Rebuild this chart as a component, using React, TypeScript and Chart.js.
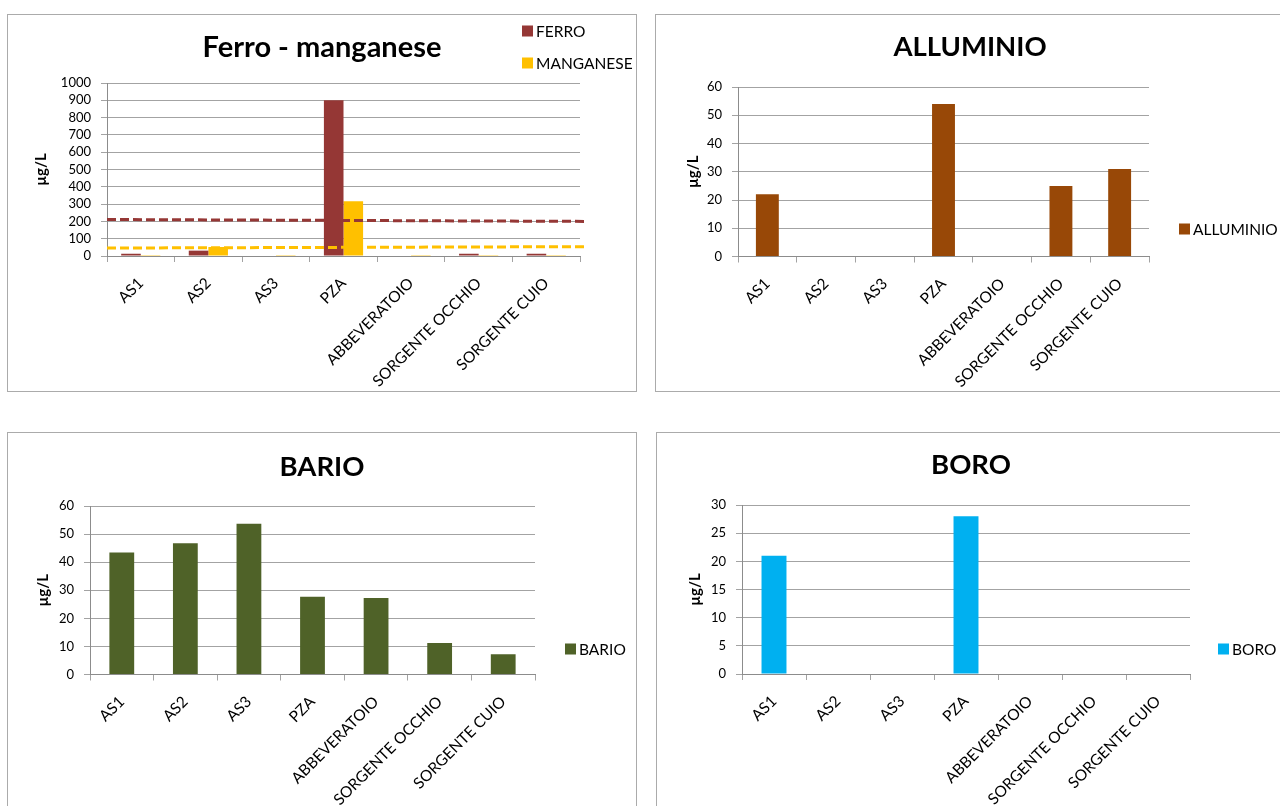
import React, { useEffect, useRef } from "react";
import { Chart, registerables } from "chart.js";

Chart.register(...registerables);

const CATEGORIES = ["AS1", "AS2", "AS3", "PZA", "ABBEVERATOIO", "SORGENTE OCCHIO", "SORGENTE CUIO"];

const FERRO = [13, 31, 0, 900, 0, 13, 13];
const MANGANESE = [5, 52, 5, 316, 5, 5, 5];
// dashed limit lines (value at left edge, value at right edge)
const FERRO_LIMIT = [211, 200];
const MANGANESE_LIMIT = [46, 54];
const LIMIT_X = [0, 7.07];

const ALLUMINIO = [22, 0, 0, 54, 0, 25, 31];
const BARIO = [43.4, 46.7, 53.7, 27.7, 27.2, 11.2, 7.2];
const BORO = [21, 0, 0, 28, 0, 0, 0];

const Y_TICKS_FERRO = { max: 1000, step: 100 };
const Y_TICKS_ALLUMINIO = { max: 60, step: 10 };
const Y_TICKS_BARIO = { max: 60, step: 10 };
const Y_TICKS_BORO = { max: 30, step: 5 };

const W = 628;
const H = 376;
const FONT = "Lato, 'Open Sans', sans-serif";
const GRID = "#a3a3a3";

type Cfg = {
  key: string;
  title: string;
  titleSize: number;
  box: { left: number; top: number };
  area: { left: number; top: number; right: number; bottom: number };
  titleY: number;
  axisTitleX: number;
  yTicks: { max: number; step: number };
  series: { label: string; data: number[]; color: string }[];
  catPct: number;
  legend: { x: number; y: number; gap: number };
  limits?: { values: number[]; color: string }[];
};

const CHARTS: Cfg[] = [
  {
    key: "fe",
    title: "Ferro - manganese",
    titleSize: 29,
    box: { left: 7, top: 14 },
    area: { left: 99, top: 68, right: 572, bottom: 241 },
    titleY: 33,
    axisTitleX: 33,
    yTicks: Y_TICKS_FERRO,
    series: [
      { label: "FERRO", data: FERRO, color: "#953735" },
      { label: "MANGANESE", data: MANGANESE, color: "#FFC000" },
    ],
    catPct: 0.58,
    legend: { x: 514, y: 16, gap: 32 },
    limits: [
      { values: FERRO_LIMIT, color: "#953735" },
      { values: MANGANESE_LIMIT, color: "#FFC000" },
    ],
  },
  {
    key: "al",
    title: "ALLUMINIO",
    titleSize: 27.5,
    box: { left: 655, top: 14 },
    area: { left: 82, top: 72, right: 493, bottom: 241.5 },
    titleY: 32,
    axisTitleX: 37,
    yTicks: Y_TICKS_ALLUMINIO,
    series: [{ label: "ALLUMINIO", data: ALLUMINIO, color: "#984807" }],
    catPct: 0.39,
    legend: { x: 523, y: 214, gap: 0 },
  },
  {
    key: "ba",
    title: "BARIO",
    titleSize: 27.5,
    box: { left: 7, top: 432 },
    area: { left: 82, top: 73, right: 527, bottom: 241.5 },
    titleY: 34,
    axisTitleX: 35,
    yTicks: Y_TICKS_BARIO,
    series: [{ label: "BARIO", data: BARIO, color: "#4F6228" }],
    catPct: 0.39,
    legend: { x: 557, y: 216, gap: 0 },
  },
  {
    key: "bo",
    title: "BORO",
    titleSize: 27.5,
    box: { left: 656, top: 432 },
    area: { left: 85, top: 72, right: 533, bottom: 241 },
    titleY: 32,
    axisTitleX: 38,
    yTicks: Y_TICKS_BORO,
    series: [{ label: "BORO", data: BORO, color: "#00B0F0" }],
    catPct: 0.39,
    legend: { x: 561, y: 216, gap: 0 },
  },
];

function buildConfig(cfg: Cfg): any {
  const { area } = cfg;
  const yw = area.left;
  const xh = H - area.bottom;
  const barThickness = ((area.right - area.left) / CATEGORIES.length) * cfg.catPct / cfg.series.length;
  const datasets: any[] = [];
  (cfg.limits || []).forEach((lim) => {
    datasets.push({
      type: "line",
      data: LIMIT_X.map((x, i) => ({ x, y: lim.values[i] })),
      xAxisID: "xl",
      yAxisID: "y",
      borderColor: lim.color,
      borderWidth: 3,
      borderDash: [9, 4],
      pointRadius: 0,
      clip: false,
      order: 0,
    });
  });
  cfg.series.forEach((s) => {
    datasets.push({
      type: "bar",
      label: s.label,
      data: s.data,
      backgroundColor: s.color,
      borderWidth: 0,
      inflateAmount: 0,
      xAxisID: "x",
      yAxisID: "y",
      barThickness,
      order: 1,
    });
  });

  const titlePlugin = {
    id: "boxTitle_" + cfg.key,
    afterDraw(chart: any) {
      const ctx = chart.ctx;
      ctx.save();
      ctx.font = `bold ${cfg.titleSize}px ${FONT}`;
      ctx.fillStyle = "#000";
      ctx.textAlign = "center";
      ctx.textBaseline = "middle";
      ctx.fillText(cfg.title, W / 2, cfg.titleY);
      ctx.restore();
    },
  };
  const legendPlugin = {
    id: "boxLegend_" + cfg.key,
    afterDraw(chart: any) {
      const ctx = chart.ctx;
      ctx.save();
      ctx.font = `15.5px ${FONT}`;
      ctx.textBaseline = "middle";
      ctx.textAlign = "left";
      cfg.series.forEach((s, i) => {
        const y = cfg.legend.y + i * cfg.legend.gap;
        ctx.fillStyle = s.color;
        ctx.fillRect(cfg.legend.x, y - 5.5, 11, 11);
        ctx.fillStyle = "#000";
        ctx.fillText(s.label, cfg.legend.x + 14, y + 1);
      });
      ctx.restore();
    },
  };

  return {
    type: "bar",
    data: { labels: CATEGORIES, datasets },
    options: {
      responsive: false,
      animation: false,
      devicePixelRatio: 1,
      layout: { padding: { left: 0, top: area.top, right: W - area.right, bottom: 0 } },
      plugins: {
        legend: { display: false },
        title: { display: false },
        tooltip: { enabled: false },
      },
      scales: {
        x: {
          type: "category",
          position: "bottom",
          grid: {
            display: true,
            drawOnChartArea: false,
            drawTicks: true,
            tickLength: 6,
            color: GRID,
            offset: true,
          },
          border: { display: true, color: "#8c8c8c" },
          ticks: {
            autoSkip: false,
            minRotation: 45,
            maxRotation: 45,
            padding: 12,
            color: "#000",
            font: { family: FONT, size: 15.5 },
          },
          afterFit(scale: any) {
            scale.height = xh;
          },
        },
        xl: {
          type: "linear",
          display: false,
          offset: false,
          grid: { offset: false },
          min: 0,
          max: 7,
          position: "bottom",
        },
        y: {
          type: "linear",
          min: 0,
          max: cfg.yTicks.max,
          grid: { color: GRID, tickLength: 6, drawTicks: true },
          border: { display: true, color: "#8c8c8c" },
          ticks: {
            stepSize: cfg.yTicks.step,
            autoSkip: false,
            padding: 10,
            color: "#000",
            font: { family: FONT, size: 13 },
            callback: (v: any) => String(v),
          },
          title: {
            display: true,
            text: "µg/L",
            color: "#000",
            font: { family: FONT, size: 15, weight: "bold" },
            padding: { top: cfg.axisTitleX - 9, bottom: 0 },
          },
          afterFit(scale: any) {
            scale.width = yw;
          },
        },
      },
    },
    plugins: [titlePlugin, legendPlugin],
  };
}

function BoxChart({ cfg }: { cfg: Cfg }) {
  const ref = useRef<HTMLCanvasElement>(null);
  useEffect(() => {
    const chart = new Chart(ref.current as HTMLCanvasElement, buildConfig(cfg));
    return () => chart.destroy();
  }, [cfg]);
  return (
    <div
      style={{
        position: "absolute",
        left: cfg.box.left,
        top: cfg.box.top,
        width: W,
        height: H,
        border: "1px solid #ababab",
        background: "#fff",
      }}
    >
      <canvas ref={ref} width={W} height={H} style={{ display: "block", width: W, height: H }} />
    </div>
  );
}

export default function App() {
  return (
    <div
      style={{
        position: "absolute",
        left: 0,
        top: 0,
        width: 1280,
        height: 806,
        overflow: "hidden",
        background: "#fff",
      }}
    >
      {CHARTS.map((c) => (
        <BoxChart key={c.key} cfg={c} />
      ))}
    </div>
  );
}
